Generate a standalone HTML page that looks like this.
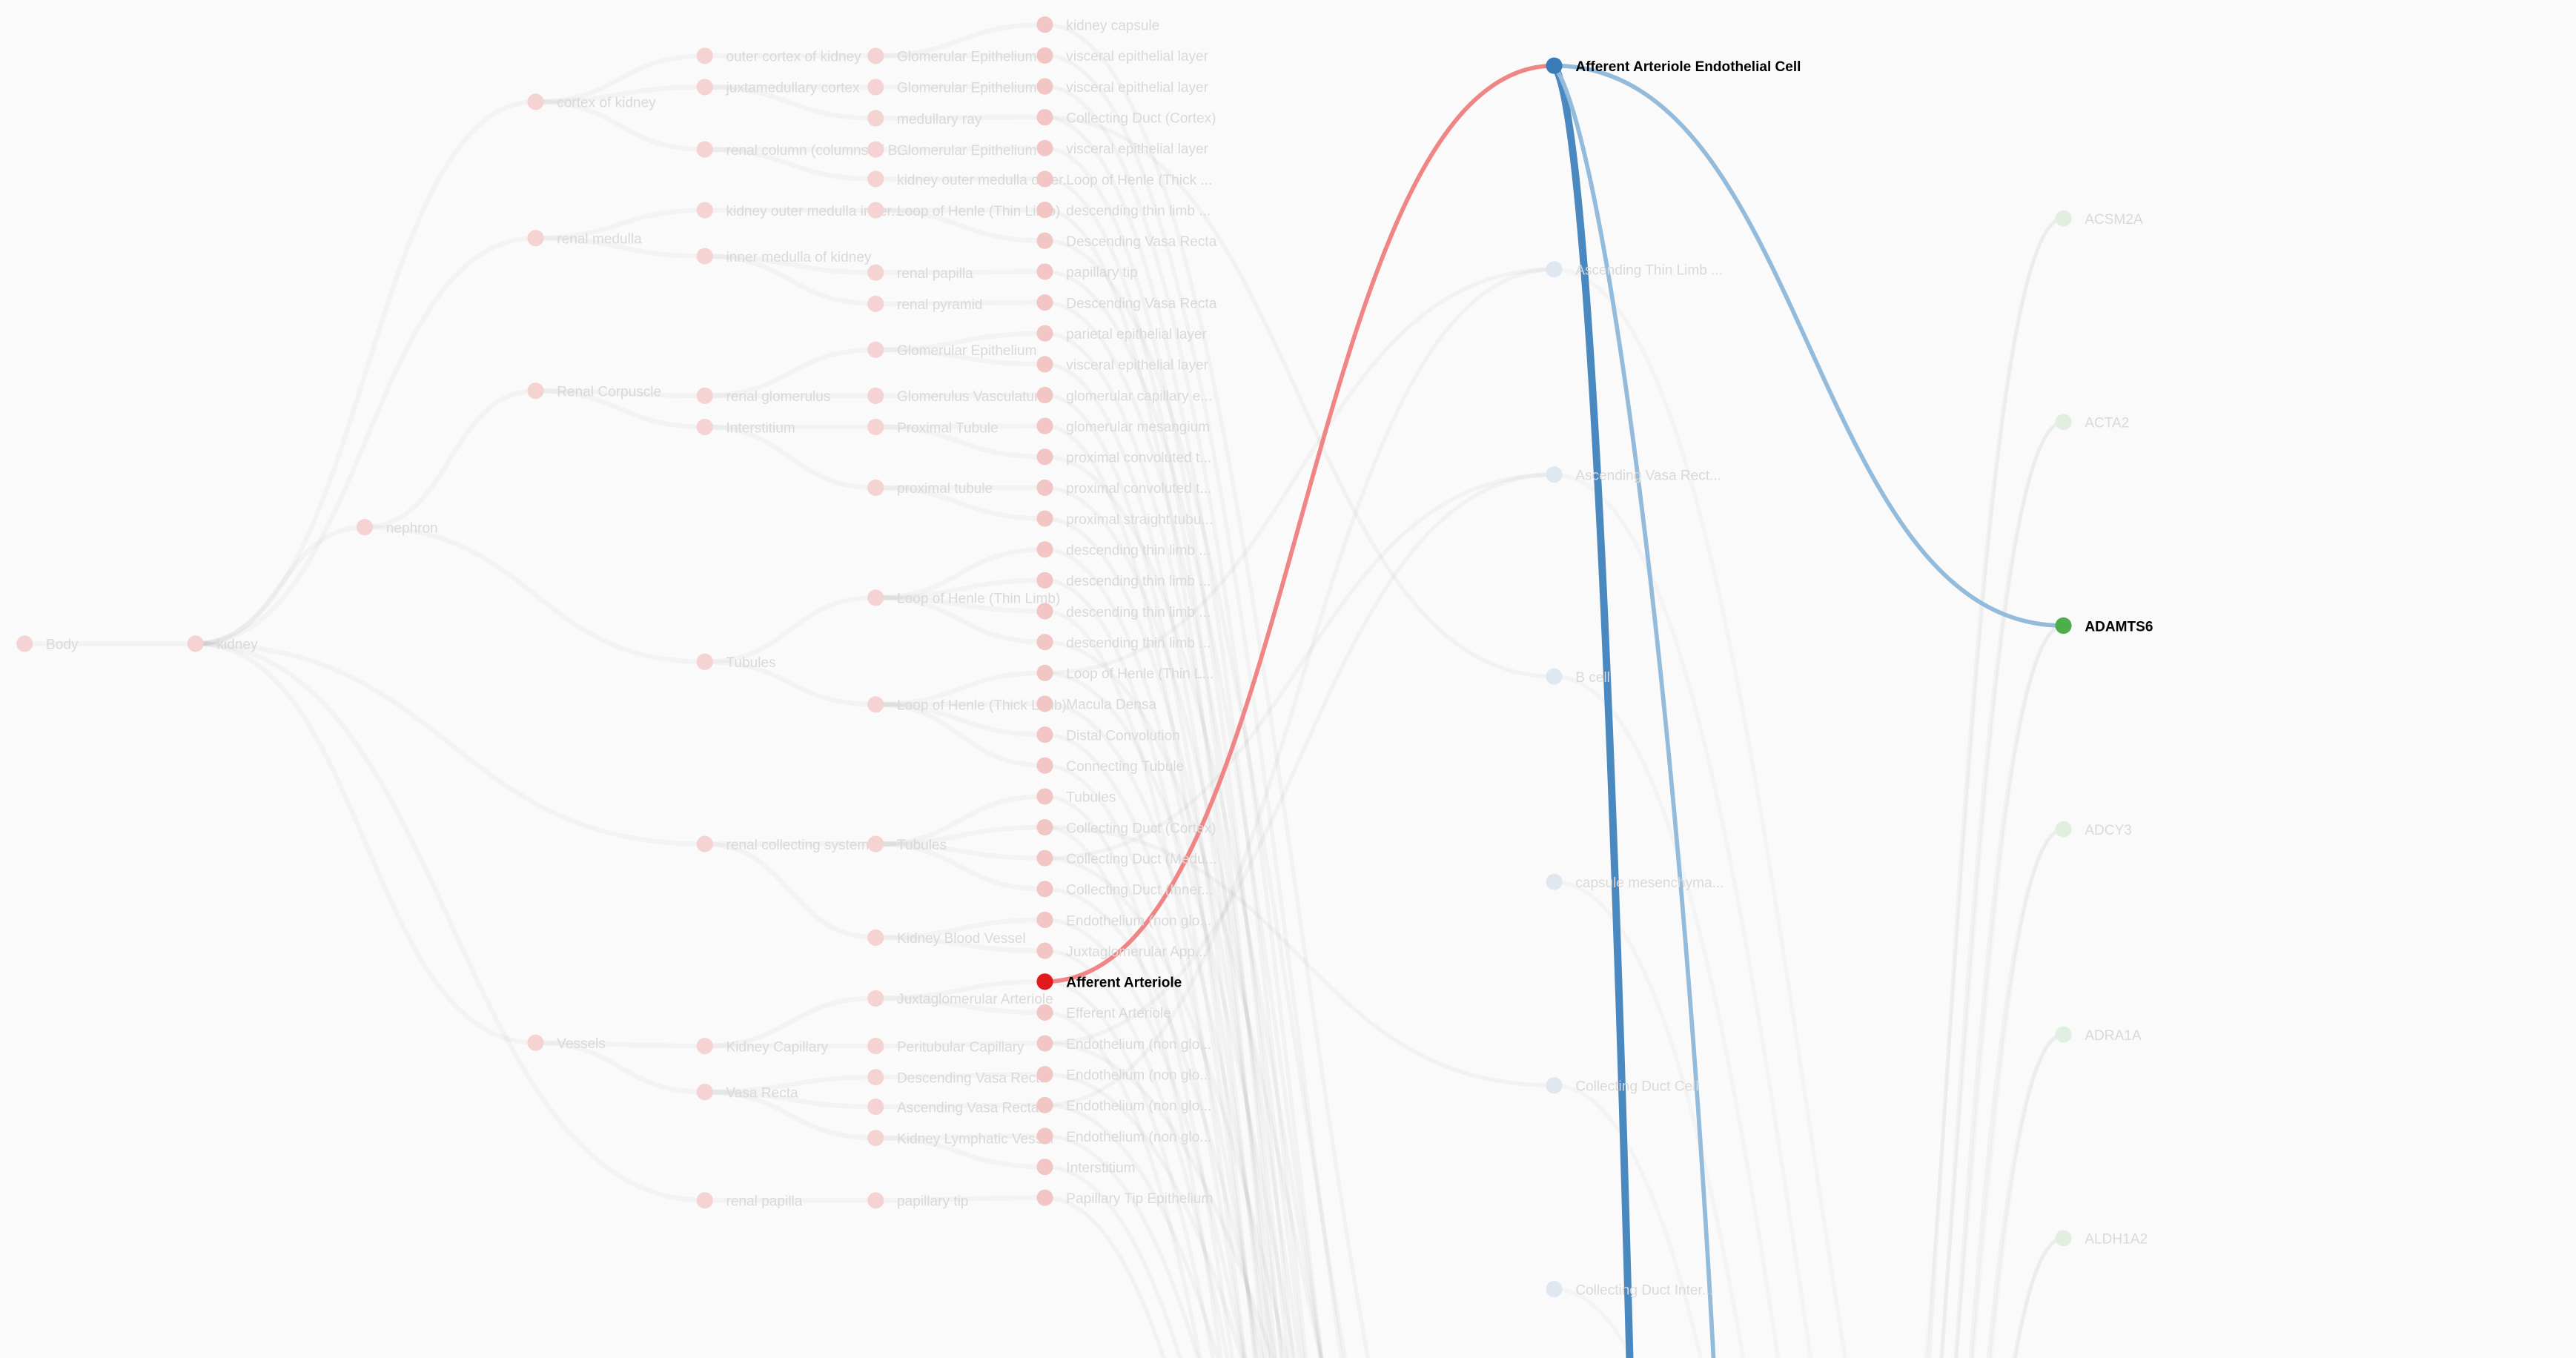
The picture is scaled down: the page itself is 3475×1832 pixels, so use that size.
<!DOCTYPE html>
<html><head><meta charset="utf-8"><style>
html,body{margin:0;padding:0;background:#fafafa;width:3475px;height:1832px;overflow:hidden;}
svg{display:block;font-family:"Liberation Sans",sans-serif;}
</style></head><body>
<svg id="chart" width="3475" height="1832" viewBox="0 0 1568 827" preserveAspectRatio="none" xmlns="http://www.w3.org/2000/svg" overflow="hidden">
<rect width="1568" height="827" fill="#fafafa"/>
<g id="edges"></g><g id="hl"></g><g id="nodes"></g>
</svg>
<script>
const colX = [15,119,222,326,429,533,636,946,1256];
const col0 = [["Body",392]];
const col1 = [["kidney",392]];
const col2 = [["nephron",321]];
const col3 = [["cortex of kidney",62],["renal medulla",145],["Renal Corpuscle",238],["Vessels",635]];
const col4 = [["outer cortex of kidney",34],["juxtamedullary cortex",53],["renal column (columns of B...",91],["kidney outer medulla inner...",128],["inner medulla of kidney",156],["renal glomerulus",241],["Interstitium",260],["Tubules",403],["renal collecting system",514],["Kidney Capillary",637],["Vasa Recta",665],["renal papilla",731]];
const col4Parent = [0,0,0,1,1,2,2,"n","k",3,3,"k"];
const col5 = [["Glomerular Epithelium",34],["Glomerular Epithelium",53],["medullary ray",72],["Glomerular Epithelium",91],["kidney outer medulla outer...",109],["Loop of Henle (Thin Limb)",128],["renal papilla",166],["renal pyramid",185],["Glomerular Epithelium",213],["Glomerulus Vasculature",241],["Proximal Tubule",260],["proximal tubule",297],["Loop of Henle (Thin Limb)",364],["Loop of Henle (Thick Limb)",429],["Tubules",514],["Kidney Blood Vessel",571],["Juxtaglomerular Arteriole",608],["Peritubular Capillary",637],["Descending Vasa Recta",656],["Ascending Vasa Recta",674],["Kidney Lymphatic Vessel",693],["papillary tip",731]];
const col6Labels = ["kidney capsule","visceral epithelial layer","visceral epithelial layer","Collecting Duct (Cortex)","visceral epithelial layer","Loop of Henle (Thick ...","descending thin limb ...","Descending Vasa Recta","papillary tip","Descending Vasa Recta","parietal epithelial layer","visceral epithelial layer","glomerular capillary e...","glomerular mesangium","proximal convoluted t...","proximal convoluted t...","proximal straight tubu...","descending thin limb ...","descending thin limb ...","descending thin limb ...","descending thin limb ...","Loop of Henle (Thin L...","Macula Densa","Distal Convolution","Connecting Tubule","Tubules","Collecting Duct (Cortex)","Collecting Duct (Medu...","Collecting Duct (Inner...","Endothelium (non glo...","Juxtaglomerular App...","Afferent Arteriole","Efferent Arteriole","Endothelium (non glo...","Endothelium (non glo...","Endothelium (non glo...","Endothelium (non glo...","Interstitium","Papillary Tip Epithelium"];
const cellTypes = [["Afferent Arteriole Endothelial Cell",40],["Ascending Thin Limb ...",164],["Ascending Vasa Rect...",289],["B cell",412],["capsule mesenchyma...",537],["Collecting Duct Cell",661],["Collecting Duct Inter...",785]];
const genes = [["ACSM2A",133],["ACTA2",257],["ADAMTS6",381],["ADCY3",505],["ADRA1A",630],["ALDH1A2",754]];
const asCtLinks = [[21,1],[27,2],[33,2],[3,3],[26,5],[35,1]];
const hlAS = 31, hlCT = 0, hlGene = 2;

const NS="http://www.w3.org/2000/svg";
const E=document.getElementById('edges'),H=document.getElementById('hl'),N=document.getElementById('nodes');
const y6 = i => 15 + i*18.8;
function link(g,x0,y0,x1,y1,col,w,name){
  const p=document.createElementNS(NS,'path');const xm=(x0+x1)/2;
  p.setAttribute('d',`M${x0},${y0}C${xm},${y0} ${xm},${y1} ${x1},${y1}`);
  p.setAttribute('fill','none');p.setAttribute('stroke',col);p.setAttribute('stroke-width',w);
  
  
  g.appendChild(p);
}
function rawPath(g,d,col,w,name){
  const p=document.createElementNS(NS,'path');p.setAttribute('d',d);p.setAttribute('fill','none');
  p.setAttribute('stroke',col);p.setAttribute('stroke-width',w);
  
  
  g.appendChild(p);
}
function node(x,y,label,fill,txt,bold,name){
  const c=document.createElementNS(NS,'circle');c.setAttribute('cx',x);c.setAttribute('cy',y);c.setAttribute('r',5);c.setAttribute('fill',fill);
  
  
  N.appendChild(c);
  const t=document.createElementNS(NS,'text');t.setAttribute('x',x+13);t.setAttribute('y',y+3.3);t.setAttribute('font-size','8.6');
  t.setAttribute('fill',txt);if(bold)t.setAttribute('font-weight','bold');t.textContent=label;
  
  
  N.appendChild(t);
}
const G='rgba(0,0,0,0.028)';
const nearest=(arr,y)=>{let b=0;arr.forEach((a,i)=>{if(Math.abs(a[1]-y)<Math.abs(arr[b][1]-y))b=i;});return b;};
link(E,colX[0],392,colX[1],392,G,3,'tree-edge');
link(E,colX[1],392,colX[2],321,G,3,'tree-edge');
[[0,1],[1,1],[2,2],[3,1]].forEach(([i,c])=>{const px=c==2?colX[2]:colX[1],py=c==2?321:392;link(E,px,py,colX[3],col3[i][1],G,3,'tree-edge');});
col4.forEach((n,i)=>{const p=col4Parent[i];let px,py;
  if(p==="n"){px=colX[2];py=321;}else if(p==="k"){px=colX[1];py=392;}else{px=colX[3];py=col3[p][1];}
  link(E,px,py,colX[4],n[1],G,3,'tree-edge');});
col5.forEach(n=>{const p=nearest(col4,n[1]);link(E,colX[4],col4[p][1],colX[5],n[1],G,3,'tree-edge');});
col6Labels.forEach((l,i)=>{const p=nearest(col5,y6(i));link(E,colX[5],col5[p][1],colX[6],y6(i),G,3,'tree-edge');});
col6Labels.forEach((l,i)=>{
  link(E,colX[6],y6(i),colX[7],1100+((i*137)%900),'rgba(0,0,0,0.03)',2.5,'as-ct-edge');
});
asCtLinks.forEach(([a,c])=>link(E,colX[6],y6(a),colX[7],cellTypes[c][1],'rgba(0,0,0,0.03)',2.5,'as-ct-edge'));
cellTypes.slice(1).forEach((c,i)=>{
  link(E,colX[7],c[1],colX[8],1200+i*150,'rgba(0,0,0,0.025)',2.5,'ct-gene-edge');
});
genes.forEach((g,i)=>{
  link(E,1100+i*8,1400,colX[8],g[1],'rgba(0,0,0,0.03)',2.5,'gene-edge');
  link(E,1120+i*10,1100,colX[8],g[1],'rgba(0,0,0,0.025)',2,'gene-edge');
});
link(H,colX[6],y6(hlAS),colX[7],cellTypes[hlCT][1],'#ef8585',2.6,'highlight-as-ct-link');
link(H,colX[7],cellTypes[hlCT][1],colX[8],genes[hlGene][1],'#93bbdc',2.6,'highlight-ct-gene-link');
rawPath(H,`M946,40 C962,60 978,300 992,827`,'#4a88c0',4.5,'highlight-ct-down-link-thick');
rawPath(H,`M946,40 C975,80 1020,400 1043,827`,'#93bbdc',2.6,'highlight-ct-down-link');
const PK='#f6d3d3',LT='#d9d9d9';
node(colX[0],392,col0[0][0],PK,LT,false,'body');
node(colX[1],392,col1[0][0],PK,LT,false,'kidney');
node(colX[2],321,col2[0][0],PK,LT,false,'nephron');
col3.forEach(n=>node(colX[3],n[1],n[0],PK,LT,false,'anatomical-structure'));
col4.forEach(n=>node(colX[4],n[1],n[0],PK,LT,false,'anatomical-structure'));
col5.forEach(n=>node(colX[5],n[1],n[0],PK,LT,false,'anatomical-structure'));
col6Labels.forEach((l,i)=>{const h=i===hlAS;node(colX[6],y6(i),l,h?'#e31a1c':'#f3c6c6',h?'#000':LT,h,h?'afferent-arteriole':'anatomical-structure');});
cellTypes.forEach((c,i)=>{const h=i===hlCT;node(colX[7],c[1],c[0],h?'#3a7ab8':'#dfe8f1',h?'#000':LT,h,h?'afferent-arteriole-endothelial-cell':'cell-type');});
genes.forEach((g,i)=>{const h=i===hlGene;node(colX[8],g[1],g[0],h?'#4daf4a':'#e0efe0',h?'#000':LT,h,h?'adamts6':'gene');});
</script>
</body></html>
